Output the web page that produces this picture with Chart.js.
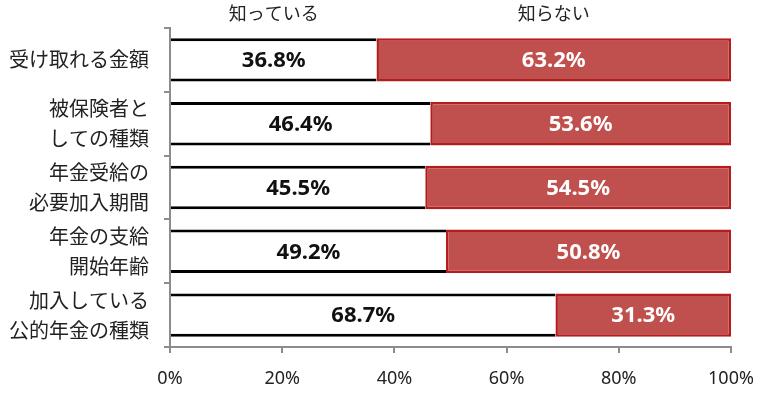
<!DOCTYPE html>
<html><head><meta charset="utf-8">
<script src="https://cdn.jsdelivr.net/npm/chart.js@4"></script>
<style>html,body{margin:0;padding:0;background:#fff;}#wrap{width:762px;height:393px;}</style>
</head><body><div id="wrap"><canvas id="c" width="762" height="393"></canvas></div>
<script>
const categories = ["受け取れる金額", ["被保険者と","しての種類"], ["年金受給の","必要加入期間"], ["年金の支給","開始年齢"], ["加入している","公的年金の種類"]];
const seriesNames = ["知っている", "知らない"];
const knowValues = [36.8, 46.4, 45.5, 49.2, 68.7];
const notKnowValues = [63.2, 53.6, 54.5, 50.8, 31.3];
const xTicks = [0, 20, 40, 60, 80, 100];

const JP = '"Noto Sans CJK JP", "Noto Sans", sans-serif';
const NUM = '"Noto Sans", "Open Sans", sans-serif';

const labelPlugin = {
  id: 'labels',
  afterDatasetsDraw(chart) {
    const ctx = chart.ctx;
    ctx.save();
    ctx.textAlign = 'center';
    ctx.textBaseline = 'middle';
    chart.data.datasets.forEach((ds, di) => {
      const meta = chart.getDatasetMeta(di);
      meta.data.forEach((el, i) => {
        const p = el.getProps(['x','y','base'], true);
        ctx.font = 'bold 22px ' + NUM;
        ctx.fillStyle = di === 0 ? '#111' : '#fff';
        ctx.fillText(ds.data[i].toFixed(1) + '%', (p.x + p.base) / 2, p.y + 1);
        if (i === 0) {
          ctx.font = '18px ' + JP;
          ctx.fillStyle = '#222';
          ctx.fillText(ds.label, (p.x + p.base) / 2, 13);
        }
      });
    });
    ctx.restore();
  }
};

function noPad(scale) {
  scale.paddingTop = 0; scale.paddingBottom = 0; scale.paddingLeft = 0; scale.paddingRight = 0;
}

new Chart(document.getElementById('c'), {
  type: 'bar',
  data: {
    labels: categories,
    datasets: [
      { label: seriesNames[0], data: knowValues, backgroundColor: '#ffffff', borderColor: '#000000',
        borderWidth: {top: 3, bottom: 3, left: 0, right: 0}, borderSkipped: false },
      { label: seriesNames[1], data: notKnowValues, backgroundColor: '#C0504D', borderColor: '#B41C1E',
        borderWidth: 2.5, borderSkipped: false }
    ]
  },
  options: {
    indexAxis: 'y',
    responsive: false,
    animation: false,
    layout: { padding: { top: 28, right: 31, left: 0, bottom: 0 } },
    datasets: { bar: { barPercentage: 0.68, categoryPercentage: 1 } },
    plugins: { legend: { display: false }, tooltip: { enabled: false } },
    scales: {
      x: {
        stacked: true, min: 0, max: 100,
        afterBuildTicks(scale) { scale.ticks = xTicks.map(v => ({ value: v })); },
        afterFit(scale) { scale.height = 46; noPad(scale); },
        border: { color: '#8c8c8c', width: 2 },
        grid: { drawOnChartArea: false, drawTicks: true, tickLength: 6, color: '#8c8c8c', lineWidth: 2 },
        ticks: { padding: 15, color: '#222', font: { family: NUM, size: 18 }, callback: v => v + '%' }
      },
      y: {
        stacked: true,
        afterFit(scale) { scale.width = 170; noPad(scale); },
        border: { color: '#8c8c8c', width: 2 },
        grid: { offset: true, drawOnChartArea: false, drawTicks: true, tickLength: 6, color: '#8c8c8c', lineWidth: 2 },
        ticks: { padding: 15, color: '#222', font: { family: JP, size: 20, lineHeight: 1.5 } }
      }
    }
  },
  plugins: [labelPlugin]
});
</script></body></html>
